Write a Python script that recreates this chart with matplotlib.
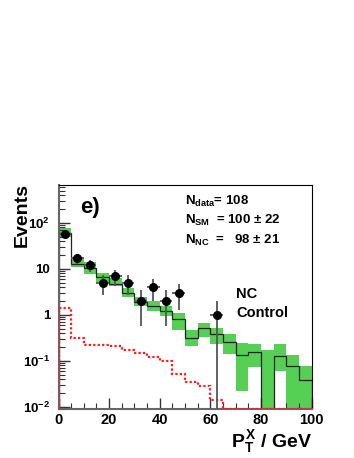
import numpy as np
import matplotlib
matplotlib.use("Agg")
import matplotlib.pyplot as plt
from matplotlib.ticker import FixedLocator, FixedFormatter, NullFormatter

plt.rcParams["font.family"] = ["Liberation Sans", "DejaVu Sans"]
plt.rcParams["font.weight"] = "bold"
plt.rcParams["mathtext.fontset"] = "custom"
plt.rcParams["mathtext.rm"] = "Liberation Sans:bold"
plt.rcParams["mathtext.it"] = "Liberation Sans:bold"
plt.rcParams["mathtext.bf"] = "Liberation Sans:bold"

# 5 GeV bins from 0 to 100
bin_edges = np.arange(0, 105, 5)

# SM expectation (central) and its uncertainty band
mc_central = [60, 13, 10.7, 6.7, 4.7, 3.05, 1.9, 1.57, 1.22, 0.82,
              0.32, 0.53, 0.38, 0.26, 0.136, 0.16, 0.0, 0.13, 0.079, 0.038]
mc_high = [77, 18.5, 14, 8.2, 6.3, 3.9, 2.46, 2.0, 1.57, 1.12,
           0.47, 0.68, 0.52, 0.385, 0.246, 0.235, 0.177, 0.235, 0.136, 0.076]
mc_low = [49, 10.9, 7.8, 5.0, 4.3, 2.4, 1.57, 1.22, 0.95, 0.47,
          0.215, 0.325, 0.235, 0.143, 0.022, 0.074, 0.0, 0.06, 0.0, 0.0]

# NC signal contribution (red dotted)
nc_values = [1.44, 0.31, 0.22, 0.225, 0.21, 0.175, 0.15, 0.12, 0.098, 0.053,
             0.035, 0.028, 0.0143, 0, 0, 0, 0, 0, 0, 0]

# data points
data_x = [2.5, 7.5, 12.5, 17.5, 22.5, 27.5, 32.5, 37.5, 42.5, 47.5, 62.5]
data_y = [57, 17, 12, 5, 7, 5, 2, 4, 2, 3, 1]

ymin, ymax = 0.0090, 670

fig = plt.figure(figsize=(3.54, 4.58), dpi=100)
W, H = 354.0, 458.0
ax = fig.add_axes([58.5 / W, (H - 409) / H, (311.7 - 58.5) / W, (409 - 185) / H])

lefts = bin_edges[:-1]
low = np.clip(mc_low, ymin * 0.5, None)
high = np.array(mc_high)
ax.bar(lefts, high - low, bottom=low, width=5, align="edge",
       color="#55d055", edgecolor="none", zorder=1)

mc_plot = np.clip(mc_central, ymin * 0.5, None)
ax.stairs(mc_plot, bin_edges, color="#222222", lw=0.9, zorder=2)

nc_plot = np.clip(nc_values, ymin * 1.0001, None)
ax.stairs(nc_plot, bin_edges, color="#ff1a1a", lw=1.6,
          linestyle=(0, (1, 1)), zorder=3)

dy = np.sqrt(data_y)
lo_err = np.minimum(dy, np.array(data_y) - ymin * 0.5)
ax.errorbar(data_x, data_y, xerr=2.5, yerr=[lo_err, dy], fmt="o", color="black",
            ecolor="#555555", elinewidth=1.3, markersize=5.5, capsize=0, zorder=4)

ax.set_xlim(0, 100)
ax.set_yscale("log")
ax.set_ylim(ymin, ymax)

ax.xaxis.set_major_locator(FixedLocator([0, 20, 40, 60, 80, 100]))
ax.xaxis.set_minor_locator(FixedLocator(np.arange(0, 101, 5)))
ax.set_xticklabels(["0", "20", "40", "60", "80", "100"], fontsize=10.5, fontweight="bold")

ax.yaxis.set_major_locator(FixedLocator([0.01, 0.1, 1, 10, 100]))
ax.yaxis.set_major_formatter(FixedFormatter(
    [r"$10^{-2}$", r"$10^{-1}$", "1", "10", r"$10^{2}$"]))
minor_y = [m * 10.0 ** e for e in range(-3, 3) for m in range(2, 10)]
ax.yaxis.set_minor_locator(FixedLocator(minor_y))
ax.yaxis.set_minor_formatter(NullFormatter())
for lab in ax.get_yticklabels():
    lab.set_fontsize(9.5)
    lab.set_fontweight("bold")

ax.tick_params(which="major", direction="in", length=8, width=1.0,
               color="#333333", right=False, top=False)
ax.tick_params(which="minor", direction="in", length=4, width=0.8,
               color="#333333", right=False, top=False)
ax.tick_params(axis="x", pad=3)
ax.tick_params(axis="y", pad=6)

for side in ["left", "bottom"]:
    ax.spines[side].set_color("#666666")
    ax.spines[side].set_linewidth(1.5)
for side in ["top", "right"]:
    ax.spines[side].set_color("black")
    ax.spines[side].set_linewidth(0.8)

# labels placed in figure pixel coordinates
def ftext(x, y, s, **kw):
    fig.text(x / W, 1 - y / H, s, **kw)

ftext(22, 183, "Events", rotation=90, ha="center", va="top",
      fontsize=14, fontweight="bold")
ftext(312, 447, r"$P_{T}^{X}$ / GeV", ha="right", va="baseline",
      fontsize=14, fontweight="bold")
ftext(80, 213, "e)", ha="left", va="baseline", fontsize=16, fontweight="bold")

ftext(185, 205, r"$N_{data}$= 108", ha="left", va="baseline", fontsize=9.5)
ftext(185, 224, r"$N_{SM}$  = 100 ± 22", ha="left", va="baseline", fontsize=9.5)
ftext(185, 244, r"$N_{NC}$  =   98 ± 21", ha="left", va="baseline", fontsize=9.5)

ftext(236, 298, "NC", ha="left", va="baseline", fontsize=10.5)
ftext(236, 317, "Control", ha="left", va="baseline", fontsize=10.5)

fig.savefig("out.png", dpi=100)
